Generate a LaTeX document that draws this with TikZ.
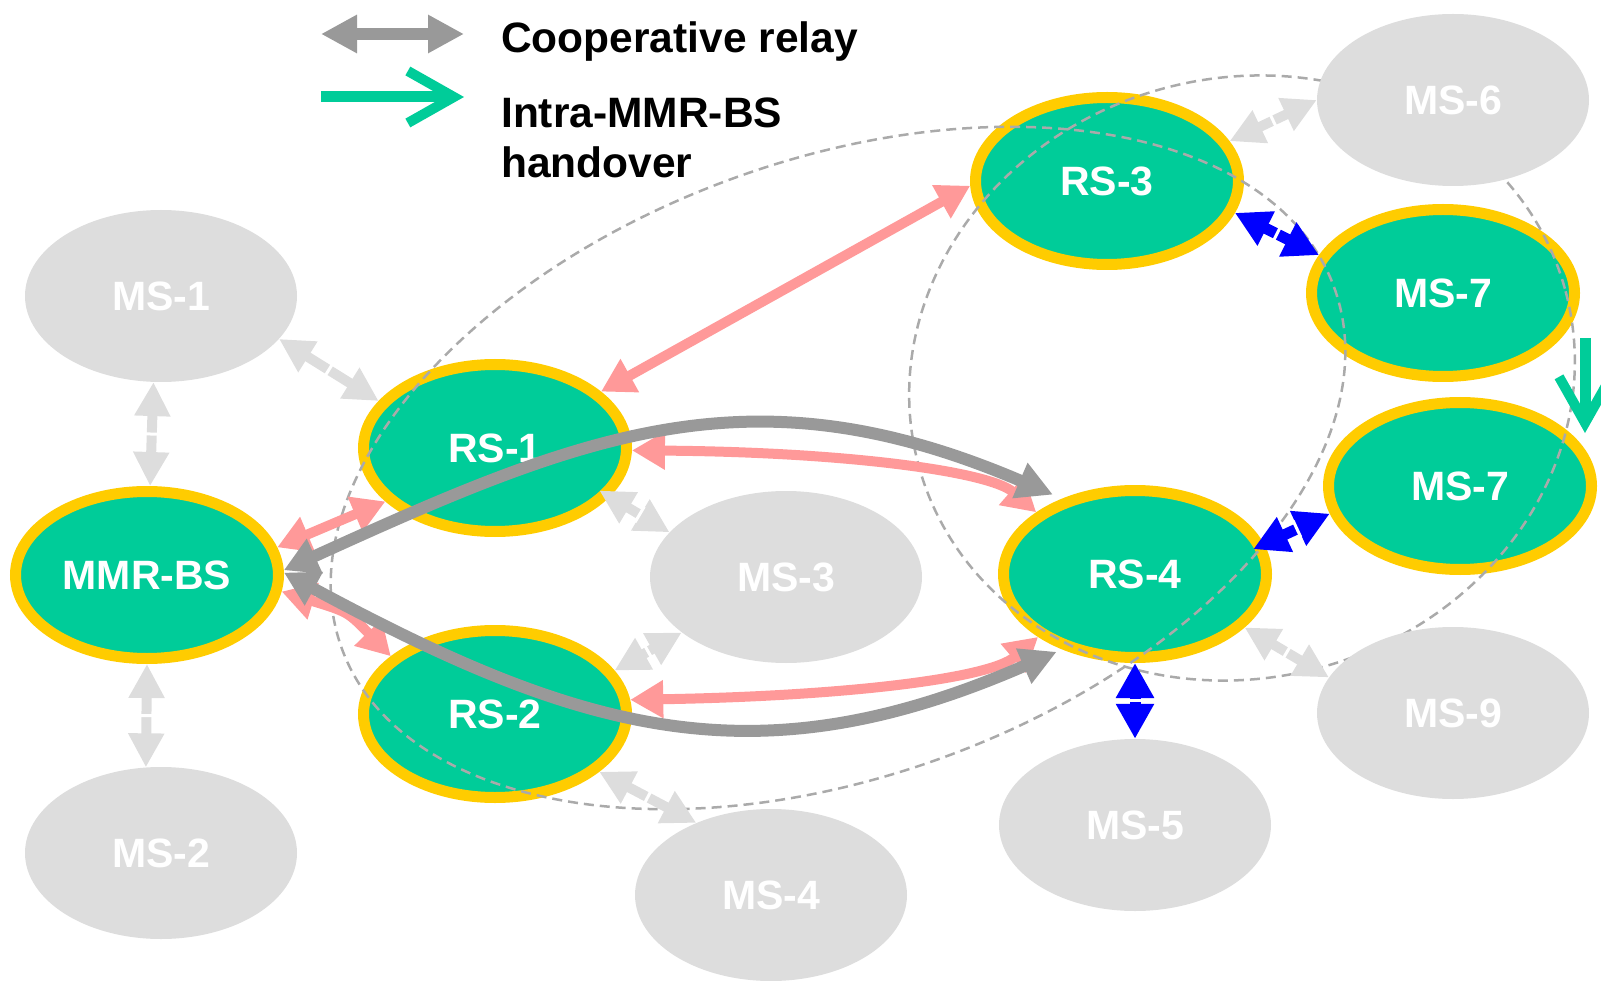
\documentclass[tikz,border=0pt]{standalone}
\usepackage{fontspec}
\setmainfont{Liberation Sans}
\usetikzlibrary{shapes.geometric,arrows.meta,decorations.markings}
\definecolor{relay}{HTML}{00CC99}
\definecolor{rim}{HTML}{FFCC00}
\definecolor{station}{HTML}{DDDDDD}
\definecolor{zone}{HTML}{AAAAAA}
\definecolor{link}{HTML}{FF9999}
\definecolor{coop}{HTML}{999999}
\begin{document}
\begin{tikzpicture}
  [x=1pt, y=-1pt,
   every node/.style={font=\fontsize{41}{41}\selectfont\bfseries, text=white, inner sep=0pt},
   rs/.style={ellipse, fill=relay, draw=rim, line width=11pt, minimum width=263pt, minimum height=167pt},
   ms/.style={ellipse, fill=station, minimum width=272pt, minimum height=172pt},
   cell/.style={draw=zone, line width=2.5pt, dash pattern=on 10pt off 6pt},
   split/.style={decoration={markings, mark=at position 0.5 with {\fill[white] (-1.5pt,-9pt) rectangle (1.5pt,9pt);}}, postaction=decorate},
   access/.style={draw=station, line width=10pt, split, {Triangle[length=34pt,width=34pt]}-{Triangle[length=34pt,width=34pt]}},
   direct/.style={draw=blue, line width=11pt, split, {Triangle[length=35pt,width=36pt]}-{Triangle[length=35pt,width=36pt]}},
   relaylink/.style={draw=link, line width=10pt, {Triangle[length=33pt,width=36pt]}-{Triangle[length=33pt,width=36pt]}},
   cooperative/.style={draw=coop, line width=12pt, {Triangle[length=34pt,width=36pt]}-{Triangle[length=36pt,width=36pt]}},
   handover/.style={draw=relay, line width=11pt, -{Straight Barb[length=46pt,width=52pt,line width=10pt]}},
   legend/.style={font=\fontsize{42.5}{50}\selectfont\bfseries, text=black, align=left}]
  \useasboundingbox (0,0) rectangle (1601,981);
  \node[rs] (mmr) at (147,575) {MMR-BS};
  \node[rs] (rs1) at (495,448) {RS-1};
  \node[rs] (rs2) at (495,714) {RS-2};
  \node[rs] (rs3) at (1107,181) {RS-3};
  \node[rs] (rs4) at (1135,574) {RS-4};
  \node[rs] (ms7a) at (1443,293) {MS-7};
  \node[rs] (ms7b) at (1460,486) {MS-7};
  \draw[cell, rotate around={20:(838,468)}] (838,468) ellipse [x radius=528, y radius=308];
  \draw[cell, rotate around={15:(1242,378)}] (1242,378) ellipse [x radius=335, y radius=300];
  \node[ms] (ms1) at (161,296) {MS-1};
  \node[ms] (ms2) at (161,853) {MS-2};
  \node[ms] (ms3) at (786,577) {MS-3};
  \node[ms] (ms4) at (771,895) {MS-4};
  \node[ms] (ms5) at (1135,825) {MS-5};
  \node[ms] (ms6) at (1453,100) {MS-6};
  \node[ms] (ms9) at (1453,713) {MS-9};
  \draw[access] (ms1.-20) -- (rs1.158);
  \draw[access] (ms1.265) -- (mmr.88);
  \draw[access] (mmr.-90) -- (ms2.100);
  \draw[access, shorten <=-12pt] (rs1.-23) -- (ms3.159);
  \draw[access] (rs2.20) -- (ms3.208);
  \draw[access] (rs2.-29) -- (ms4.136);
  \draw[access] (rs3.18) -- (ms6.180);
  \draw[access] (rs4.-26) -- (ms9.164);
  \draw[direct] (rs3.-14) -- (ms7a.163);
  \draw[direct, shorten <=-12pt] (rs4.13) -- (ms7b.192);
  \draw[direct] (rs4.-90) -- (ms5.90);
  \draw[relaylink] (rs1.28) -- (rs3.182);
  \draw[relaylink] (mmr.12) -- (rs1.206);
  \draw[relaylink] (mmr.-7) .. controls (348,612) .. (rs2.151);
  \draw[relaylink] (rs1.-1) .. controls (850,452) and (990,472) .. (rs4.148);
  \draw[relaylink] (rs2.6) .. controls (850,696) and (990,678) .. (rs4.213);
  \draw[cooperative, shorten >=10pt] (mmr.2) .. controls (587,432) and (753,366) .. (rs4.134);
  \draw[cooperative, shorten >=6pt] (mmr.1) .. controls (585,735) and (758,782) .. (rs4.226);
  \draw[handover] ([xshift=5pt,yshift=-45pt]ms7a.east) -- ([xshift=-12pt,yshift=53pt]ms7b.east);
  \coordinate (k1) at (321,34);
  \coordinate (k2) at (464,34);
  \coordinate (k3) at (321,97);
  \coordinate (k4) at (464,97);
  \draw[cooperative, {Triangle[length=36pt,width=36pt]}-{Triangle[length=36pt,width=36pt]}] (k1) -- (k2);
  \draw[handover] (k3) -- (k4);
  \node[legend, anchor=base west] (coopkey) at (501,53) {Cooperative relay};
  \node[legend, anchor=base west] (hokey) at (501,178) {Intra-MMR-BS\\handover};
\end{tikzpicture}
\end{document}
